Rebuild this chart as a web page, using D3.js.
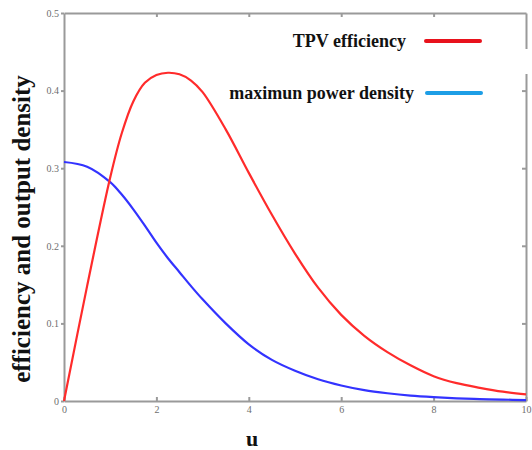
<!DOCTYPE html>
<html>
<head>
<meta charset="utf-8">
<script src="https://cdn.jsdelivr.net/npm/d3@7"></script>
<style>
  html, body { margin: 0; padding: 0; background: #fff; }
  #canvas { width: 532px; height: 450px; }
</style>
</head>
<body>
<div id="canvas"></div>
<script>
// values
const uValues = [0, 0.5, 1, 1.25, 1.5, 1.75, 2, 2.25, 2.5, 2.75, 3, 3.5, 4, 4.5, 5, 5.5, 6, 6.5, 7, 7.5, 8, 8.5, 9, 9.5, 10];
const tpvEfficiency = [0, 0.148, 0.288, 0.345, 0.386, 0.41, 0.42, 0.423, 0.421, 0.413, 0.398, 0.35, 0.294, 0.24, 0.19, 0.146, 0.111, 0.084, 0.063, 0.046, 0.032, 0.023, 0.017, 0.012, 0.0086];
const maxPowerDensity = [0.308, 0.302, 0.282, 0.266, 0.247, 0.226, 0.204, 0.184, 0.166, 0.148, 0.131, 0.1, 0.073, 0.053, 0.039, 0.028, 0.02, 0.014, 0.01, 0.007, 0.005, 0.0035, 0.0025, 0.0018, 0.0012];
const xTicks = [0, 2, 4, 6, 8, 10];
const yTicks = [0, 0.1, 0.2, 0.3, 0.4, 0.5];
const seriesNames = ['TPV efficiency', 'maximun power density'];

const width = 532;
const height = 450;
const margin = { top: 13, left: 64, right: 6, bottom: 49 };

const svg = d3.select('#canvas').append('svg')
    .attr('width', width)
    .attr('height', height);

const xScale = d3.scaleLinear()
    .domain([0, 10])
    .range([margin.left, width - margin.right]);

const yScale = d3.scaleLinear()
    .domain([0, 0.5])
    .range([height - margin.bottom, margin.top]);

const axisColor = '#9a9a9a';
const fmt = d => d === 0 ? '0' : String(d);

// bottom axis
const xAxis = svg.append('g')
    .attr('transform', `translate(0,${yScale(0)})`)
    .call(d3.axisBottom(xScale).tickValues(xTicks).tickFormat(fmt).tickSizeInner(-4).tickSizeOuter(0).tickPadding(5));
// left axis
const yAxis = svg.append('g')
    .attr('transform', `translate(${xScale(0)},0)`)
    .call(d3.axisLeft(yScale).tickValues(yTicks).tickFormat(fmt).tickSizeInner(3).tickSizeOuter(0).tickPadding(2));
// top and right frame
const topAxis = svg.append('g')
    .attr('transform', `translate(0,${yScale(0.5)})`)
    .call(d3.axisTop(xScale).tickValues(xTicks.slice(1, -1)).tickFormat('').tickSizeInner(-4).tickSizeOuter(0));
const rightAxis = svg.append('g')
    .attr('transform', `translate(${xScale(10)},0)`)
    .call(d3.axisRight(yScale).tickValues(yTicks.slice(1, -1)).tickFormat('').tickSizeInner(-4).tickSizeOuter(0));

[xAxis, yAxis, topAxis, rightAxis].forEach(g => {
  g.selectAll('path, line').attr('stroke', axisColor).attr('stroke-width', 2);
  g.selectAll('text')
    .attr('fill', '#6e6e6e')
    .style('font-family', '"Liberation Serif", serif')
    .style('font-size', '10px');
});

// gap in the right border behind the legend
svg.append('rect')
    .attr('x', xScale(10) - 3)
    .attr('y', 49)
    .attr('width', 8)
    .attr('height', 25)
    .attr('fill', '#fff');

const line = d3.line()
    .x((d, i) => xScale(uValues[i]))
    .y(d => yScale(d))
    .curve(d3.curveCatmullRom.alpha(0.5));

const dataRegion = svg.append('g').attr('id', 'data');

dataRegion.append('path')
    .attr('d', line(maxPowerDensity))
    .attr('fill', 'none')
    .attr('stroke', '#3333ff')
    .attr('stroke-width', 2.2);

dataRegion.append('path')
    .attr('d', line(tpvEfficiency))
    .attr('fill', 'none')
    .attr('stroke', '#ff2b2b')
    .attr('stroke-width', 2.2);

// legend
const legend = svg.append('g').attr('id', 'legend');
const legendColors = ['#e8121c', '#1d9ee6'];
const legendY = [41, 93];
seriesNames.forEach((name, i) => {
  legend.append('text')
      .attr('x', 406 + (i === 1 ? 8 : 0))
      .attr('y', legendY[i] + 6)
      .attr('text-anchor', 'end')
      .style('font-family', '"Liberation Serif", serif')
      .style('font-weight', 'bold')
      .style('font-size', '18px')
      .attr('fill', '#111')
      .text(name);
  legend.append('line')
      .attr('x1', 426 + i)
      .attr('x2', 480 + i)
      .attr('y1', legendY[i])
      .attr('y2', legendY[i])
      .attr('stroke', legendColors[i])
      .attr('stroke-width', 4)
      .attr('stroke-linecap', 'round');
});

// axis titles
svg.append('text')
    .attr('x', 252)
    .attr('y', 446)
    .attr('text-anchor', 'middle')
    .style('font-family', '"Liberation Serif", serif')
    .style('font-weight', 'bold')
    .style('font-size', '22px')
    .attr('fill', '#111')
    .text('u');

svg.append('text')
    .attr('transform', 'translate(30,229) rotate(-90)')
    .attr('text-anchor', 'middle')
    .style('font-family', '"Liberation Serif", serif')
    .style('font-weight', 'bold')
    .style('font-size', '25px')
    .attr('fill', '#111')
    .text('efficiency and output density');
</script>
</body>
</html>
